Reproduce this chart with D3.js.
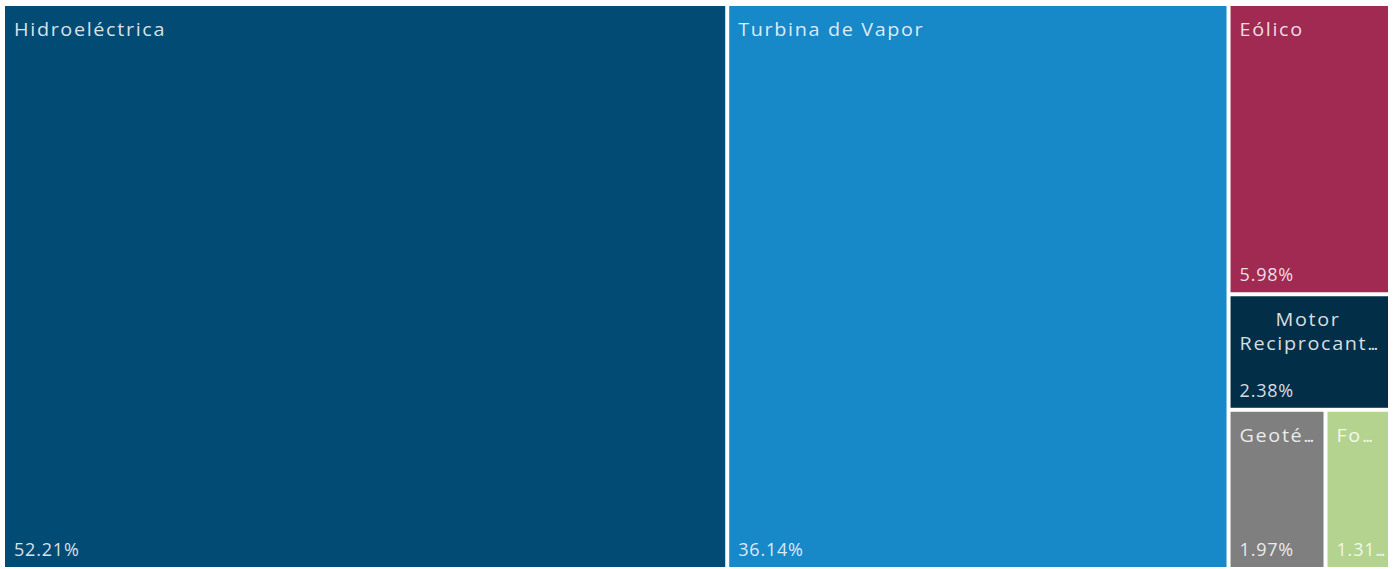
<!DOCTYPE html>
<html>
<head>
<meta charset="utf-8">
<script src="https://cdn.jsdelivr.net/npm/d3@7"></script>
<style>
  html, body { margin: 0; padding: 0; background: #ffffff; }
  svg { display: block; }
  text { font-family: "Open Sans", "Noto Sans", sans-serif; }
</style>
</head>
<body>
<svg id="chart" width="1393" height="569"></svg>
<script>
const categories = ["Hidroeléctrica", "Turbina de Vapor", "Eólico", "Motor Reciprocante", "Geotérmica", "Fotovoltaica"];
const shares = [52.21, 36.14, 5.98, 2.38, 1.97, 1.31];
const colors = ["#024b74", "#1788c8", "#a02a52", "#032e48", "#7f7f7f", "#b3d38f"];

const W = 1393, H = 569;
const margin = { left: 5, top: 6, right: 5, bottom: 2 };
const svg = d3.select("#chart");

const data = { name: "root", children: categories.map((c, i) => ({ name: c, value: shares[i], color: colors[i] })) };
const root = d3.hierarchy(data).sum(d => d.value || 0);

d3.treemap()
  .tile(d3.treemapBinary)
  .size([W - margin.left - margin.right, H - margin.top - margin.bottom])
  .paddingInner(4)(root);

const g = svg.append("g").attr("transform", `translate(${margin.left},${margin.top})`);
const fs = 18, padL = 9, padR = 9.5, ellLs = -2;
const nameStyle = { ls: 1.5, sx: 1.1 };
const pctStyle = { ls: 0.8, sx: 1.0 };

const cell = g.selectAll("g.cell").data(root.leaves()).join("g").attr("class", "cell")
  .attr("transform", d => `translate(${d.x0},${d.y0})`);

cell.append("rect")
  .attr("width", d => d.x1 - d.x0)
  .attr("height", d => d.y1 - d.y0)
  .attr("fill", d => d.data.color);

const measurer = svg.append("text").attr("font-size", fs).attr("visibility", "hidden");
function rawW(s, ls) { measurer.attr("letter-spacing", ls).text(s); return measurer.node().getComputedTextLength(); }
function tw(s, st) {
  if (s.endsWith("...")) return (rawW(s.slice(0, -3), st.ls) + rawW("...", ellLs)) * st.sx;
  return rawW(s, st.ls) * st.sx;
}
function fit(s, maxW, st) {
  if (tw(s, st) <= maxW) return s;
  let t = s;
  while (t.length > 1 && tw(t + "...", st) > maxW) t = t.slice(0, -1);
  return t + "...";
}
function wrap(s, maxW, st) {
  const words = s.split(" ");
  const lines = [];
  let cur = "";
  words.forEach(w => {
    const trial = cur ? cur + " " + w : w;
    if (tw(trial, st) <= maxW || !cur) cur = trial; else { lines.push(cur); cur = w; }
  });
  if (cur) lines.push(cur);
  return lines.map(l => fit(l, maxW, st));
}

function addText(sel, str, x, y, anchor, st) {
  const t = sel.append("text")
    .attr("transform", `translate(${x},${y}) scale(${st.sx},1)`)
    .attr("text-anchor", anchor)
    .attr("font-size", fs)
    .attr("fill", "rgba(255,255,255,0.85)");
  if (str.endsWith("...")) {
    t.append("tspan").attr("letter-spacing", st.ls).text(str.slice(0, -3));
    t.append("tspan").attr("letter-spacing", ellLs).text("...");
  } else {
    t.attr("letter-spacing", st.ls).text(str);
  }
}

cell.each(function(d) {
  const c = d3.select(this);
  const w = d.x1 - d.x0, h = d.y1 - d.y0;
  const lines = wrap(d.data.name, w - padL - padR, nameStyle);
  const blockW = d3.max(lines.map(l => tw(l, nameStyle)));
  lines.forEach((l, i) => {
    addText(c, l, padL + (lines.length > 1 ? blockW / 2 : 0), 30 + i * 24, lines.length > 1 ? "middle" : "start", nameStyle);
  });
  addText(c, fit(d3.format(".2f")(d.data.value) + "%", w - padL - 1, pctStyle), padL, h - 11, "start", pctStyle);
});
measurer.remove();
</script>
</body>
</html>
